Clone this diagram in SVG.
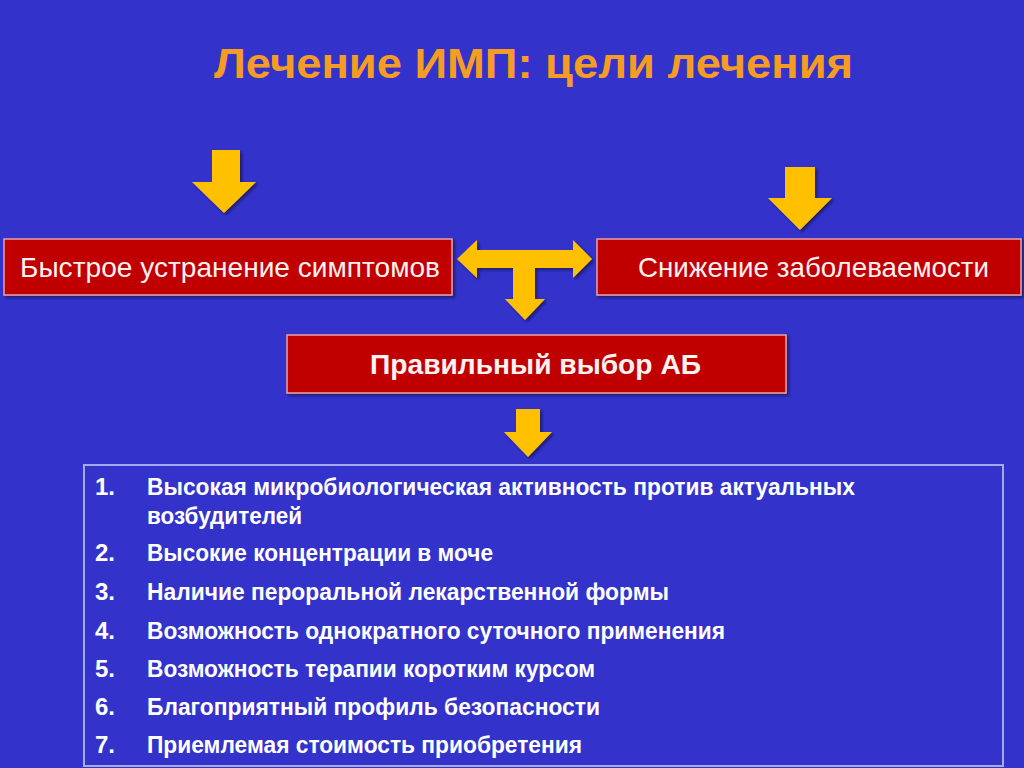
<svg xmlns="http://www.w3.org/2000/svg" width="1024" height="768" viewBox="0 0 1024 768">
<defs>
<filter id="sh" x="-20%" y="-20%" width="140%" height="140%">
<feDropShadow dx="2" dy="2" stdDeviation="1.5" flood-color="#101040" flood-opacity="0.7"/>
</filter>
<style>
.arrow{fill:#ffc000;filter:url(#sh)}
.box{fill:#c00000;stroke:#eaa0a8;stroke-width:1.5;filter:url(#sh)}
.bt{font-family:"Liberation Sans",Arial,sans-serif;fill:#fff2f2;font-size:28px}
.li{font-family:"Liberation Sans",Arial,sans-serif;fill:#ffffff;font-size:24px;font-weight:bold}
</style>
</defs>
<rect width="1024" height="768" fill="#3333cc"/>
<text x="214" y="78" font-family="'Liberation Sans',Arial,sans-serif" font-size="43" font-weight="bold" fill="#f59c24" textLength="639" lengthAdjust="spacingAndGlyphs">Лечение ИМП: цели лечения</text>
<g id="connectors">
<polygon class="arrow" points="212,150 240,150 240,182 256,182 224,213 192,182 212,182"/>
<polygon class="arrow" points="785,167 815,167 815,198 832,198 800,230 768,198 785,198"/>
<polygon class="arrow" points="457,259 477,240 477,250 573,250 573,240 592,259 573,278 573,268 535,268 535,299 545,299 525,320 505,299 513,299 513,268 477,268 477,278"/>
<polygon class="arrow" points="516,409 540,409 540,432 552,432 528,457 504,432 516,432"/>
</g>
<g id="node-symptoms">
<rect class="box" x="4" y="239" width="448" height="56"/>
<text class="bt" x="20" y="277" textLength="420" lengthAdjust="spacingAndGlyphs">Быстрое устранение симптомов</text>
</g>
<g id="node-morbidity">
<rect class="box" x="597" y="239" width="424" height="56"/>
<text class="bt" x="638" y="277" textLength="351" lengthAdjust="spacingAndGlyphs">Снижение заболеваемости</text>
</g>
<g id="node-choice">
<rect class="box" x="287" y="335" width="499" height="58"/>
<text class="bt" x="370" y="374" font-size="25" font-weight="bold" textLength="331" lengthAdjust="spacingAndGlyphs">Правильный выбор АБ</text>
</g>
<g id="node-list">
<rect x="84" y="465" width="919" height="301" fill="none" stroke="#a4aaf0" stroke-width="2"/>
<text class="li" x="95" y="495">1.</text>
<text class="li" x="147" y="495" textLength="708" lengthAdjust="spacingAndGlyphs">Высокая микробиологическая активность против актуальных</text>
<text class="li" x="147" y="524" textLength="155" lengthAdjust="spacingAndGlyphs">возбудителей</text>
<text class="li" x="95" y="561">2.</text>
<text class="li" x="147" y="561" textLength="346" lengthAdjust="spacingAndGlyphs">Высокие концентрации в моче</text>
<text class="li" x="95" y="600">3.</text>
<text class="li" x="147" y="600" textLength="522" lengthAdjust="spacingAndGlyphs">Наличие пероральной лекарственной формы</text>
<text class="li" x="95" y="639">4.</text>
<text class="li" x="147" y="639" textLength="578" lengthAdjust="spacingAndGlyphs">Возможность однократного суточного применения</text>
<text class="li" x="95" y="677">5.</text>
<text class="li" x="147" y="677" textLength="448" lengthAdjust="spacingAndGlyphs">Возможность терапии коротким курсом</text>
<text class="li" x="95" y="715">6.</text>
<text class="li" x="147" y="715" textLength="453" lengthAdjust="spacingAndGlyphs">Благоприятный профиль безопасности</text>
<text class="li" x="95" y="753">7.</text>
<text class="li" x="147" y="753" textLength="435" lengthAdjust="spacingAndGlyphs">Приемлемая стоимость приобретения</text>
</g>
</svg>
